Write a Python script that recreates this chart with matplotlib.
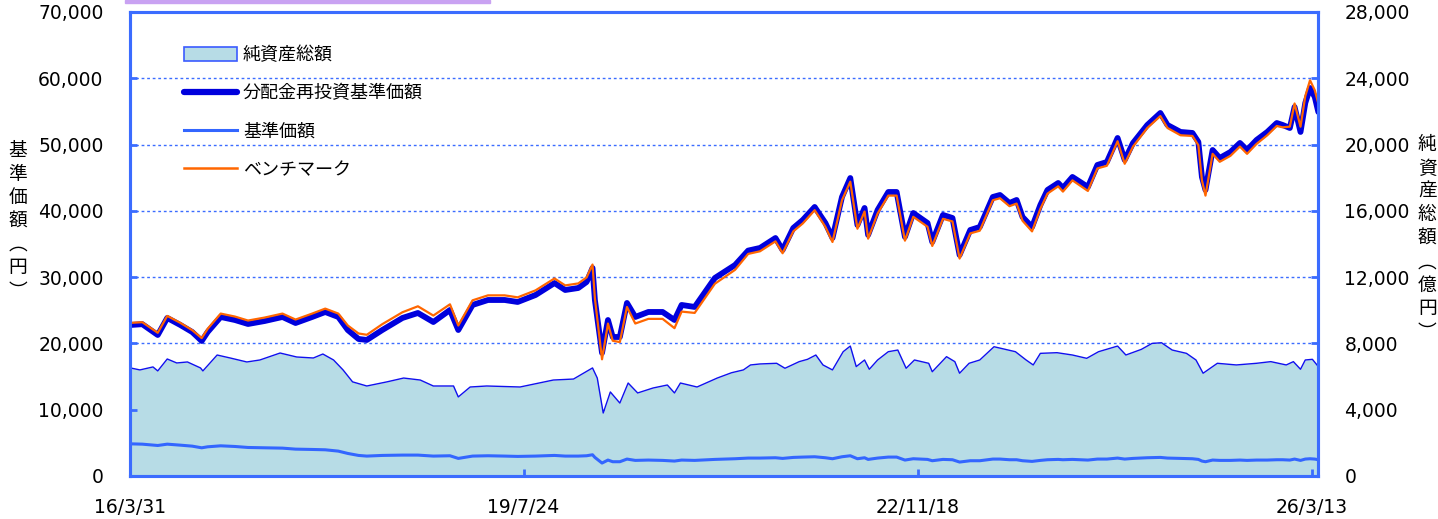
import numpy as np
import pandas as pd
import matplotlib
matplotlib.use("Agg")
import matplotlib.pyplot as plt
from matplotlib.patches import Patch, Rectangle
from matplotlib.lines import Line2D

plt.rcParams['font.family'] = ['DejaVu Sans', 'Noto Sans CJK JP']

# --- données (temps en années décimales) ---
t_nav = [2016.25, 2016.35, 2016.48, 2016.56, 2016.67, 2016.77, 2016.85, 2016.90, 2017.01, 2017.13,
         2017.24, 2017.38, 2017.53, 2017.64, 2017.78, 2017.89, 2018.00, 2018.08, 2018.17, 2018.24,
         2018.37, 2018.54, 2018.67, 2018.80, 2018.94, 2019.01, 2019.13, 2019.26, 2019.40, 2019.51,
         2019.66, 2019.82, 2019.91, 2020.02, 2020.09, 2020.14, 2020.16, 2020.22, 2020.27, 2020.31,
         2020.37, 2020.43, 2020.50, 2020.61, 2020.73, 2020.83, 2020.89, 2021.00, 2021.17, 2021.34,
         2021.45, 2021.55, 2021.68, 2021.74, 2021.83, 2021.91, 2022.01, 2022.10, 2022.16, 2022.24,
         2022.31, 2022.37, 2022.43, 2022.46, 2022.54, 2022.63, 2022.70, 2022.77, 2022.84, 2022.96,
         2023.00, 2023.09, 2023.17, 2023.23, 2023.32, 2023.40, 2023.51, 2023.57, 2023.65, 2023.71,
         2023.76, 2023.84, 2023.91, 2023.97, 2024.06, 2024.10, 2024.18, 2024.31, 2024.39, 2024.47,
         2024.56, 2024.62, 2024.69, 2024.81, 2024.92, 2024.98, 2025.09, 2025.19, 2025.24, 2025.27,
         2025.30, 2025.36, 2025.42, 2025.51, 2025.59, 2025.65, 2025.73, 2025.82, 2025.90, 2025.95,
         2026.01, 2026.05, 2026.10, 2026.14, 2026.18, 2026.22, 2026.25]

# 分配金再投資基準価額 (円)
reinvest = [22780, 22900, 21270, 23840, 22780, 21720, 20370, 21720, 23990, 23530,
            22930, 23380, 23990, 23080, 23990, 24740, 23990, 22020, 20670, 20520,
            22020, 23840, 24590, 23230, 25040, 22020, 25800, 26550, 26550, 26250,
            27300, 29110, 28060, 28360, 29270, 31380, 26550, 18560, 23530, 20970,
            20970, 26100, 23990, 24740, 24740, 23530, 25800, 25500, 29870, 31830,
            34000, 34400, 35900, 34090, 37410, 38620, 40580, 38170, 35900, 42090,
            44950, 37860, 40430, 36360, 40130, 42840, 42840, 36060, 39670, 38170,
            35300, 39380, 38920, 33340, 37110, 37560, 42090, 42390, 41180, 41640,
            39070, 37560, 40880, 43150, 44200, 43450, 45110, 43600, 46920, 47370,
            50990, 47670, 50240, 52950, 54760, 52950, 51900, 51750, 50390, 45110,
            43150, 49180, 47970, 48880, 50240, 49180, 50690, 51900, 53250, 52950,
            52500, 55670, 51900, 56270, 58530, 57180, 54910]

# ベンチマーク
benchmark = [23100, 23200, 21600, 24150, 23100, 22000, 20800, 22200, 24500, 24050,
             23450, 23900, 24500, 23600, 24500, 25250, 24500, 22700, 21500, 21300,
             22900, 24700, 25600, 24200, 25900, 22700, 26500, 27250, 27250, 26950,
             28000, 29800, 28750, 29050, 29950, 31900, 26800, 17600, 23000, 20400,
             20200, 25500, 23000, 23700, 23700, 22300, 24800, 24600, 29000, 31100,
             33500, 33900, 35400, 33600, 36900, 38100, 40100, 37600, 35300, 41600,
             44400, 37300, 39900, 35800, 39600, 42300, 42300, 35500, 39100, 37600,
             34700, 38800, 38400, 32800, 36600, 37000, 41600, 41900, 40700, 41100,
             38500, 36900, 40300, 42600, 43700, 42900, 44600, 43000, 46400, 46800,
             50500, 47100, 49700, 52500, 54300, 52500, 51400, 51300, 49900, 44600,
             42300, 48600, 47400, 48300, 49700, 48600, 50100, 51400, 52800, 52600,
             52700, 56200, 52700, 57300, 59700, 58200, 56200]

# 基準価額
nav = [4850, 4800, 4600, 4800, 4650, 4500, 4250, 4400, 4550, 4450,
       4300, 4250, 4200, 4050, 4000, 3950, 3750, 3400, 3100, 3000,
       3100, 3150, 3150, 3000, 3050, 2650, 3000, 3050, 3000, 2950,
       3000, 3100, 3000, 3000, 3050, 3200, 2800, 1950, 2400, 2150,
       2150, 2550, 2350, 2400, 2350, 2250, 2400, 2350, 2500, 2600,
       2700, 2700, 2750, 2650, 2800, 2850, 2900, 2750, 2600, 2900,
       3050, 2600, 2750, 2500, 2700, 2850, 2850, 2400, 2600, 2500,
       2300, 2500, 2450, 2100, 2300, 2300, 2550, 2550, 2450, 2450,
       2300, 2200, 2350, 2450, 2500, 2450, 2500, 2400, 2550, 2550,
       2700, 2550, 2650, 2750, 2800, 2700, 2650, 2600, 2500, 2250,
       2150, 2400, 2350, 2350, 2400, 2350, 2400, 2400, 2450, 2450,
       2400, 2550, 2350, 2550, 2600, 2550, 2450]

# 純資産総額 (億円)
t_aum = [2016.25, 2016.33, 2016.44, 2016.48, 2016.56, 2016.64, 2016.73, 2016.84, 2016.86, 2016.98,
         2017.09, 2017.23, 2017.34, 2017.51, 2017.65, 2017.79, 2017.87, 2017.96, 2018.04, 2018.12,
         2018.24, 2018.41, 2018.55, 2018.69, 2018.80, 2018.97, 2019.01, 2019.11, 2019.25, 2019.53,
         2019.81, 2019.98, 2020.14, 2020.18, 2020.23, 2020.29, 2020.37, 2020.44, 2020.52, 2020.65,
         2020.77, 2020.83, 2020.88, 2021.02, 2021.19, 2021.31, 2021.41, 2021.47, 2021.55, 2021.69,
         2021.76, 2021.88, 2021.95, 2022.02, 2022.08, 2022.16, 2022.25, 2022.31, 2022.36, 2022.43,
         2022.47, 2022.54, 2022.63, 2022.71, 2022.78, 2022.85, 2022.97, 2023.00, 2023.12, 2023.19,
         2023.23, 2023.31, 2023.40, 2023.52, 2023.58, 2023.70, 2023.79, 2023.85, 2023.91, 2024.05,
         2024.18, 2024.30, 2024.40, 2024.56, 2024.63, 2024.76, 2024.85, 2024.93, 2025.02, 2025.14,
         2025.22, 2025.28, 2025.34, 2025.40, 2025.56, 2025.73, 2025.85, 2025.98, 2026.04, 2026.10,
         2026.14, 2026.20, 2026.25]
aum = [6520, 6400, 6580, 6340, 7060, 6820, 6880, 6520, 6340, 7300,
       7120, 6880, 7000, 7420, 7180, 7120, 7360, 7000, 6400, 5680,
       5430, 5680, 5910, 5790, 5430, 5430, 4770, 5370, 5430, 5370,
       5790, 5850, 6520, 5910, 3800, 5070, 4400, 5610, 5010, 5310,
       5490, 5010, 5610, 5370, 5910, 6230, 6400, 6700, 6760, 6800,
       6500, 6900, 7040, 7300, 6700, 6400, 7500, 7840, 6600, 7000,
       6440, 7000, 7500, 7600, 6500, 7000, 6800, 6290, 7200, 6900,
       6200, 6800, 7000, 7800, 7700, 7500, 7000, 6700, 7400, 7440,
       7300, 7100, 7500, 7840, 7300, 7640, 8000, 8040, 7600, 7400,
       7000, 6200, 6500, 6800, 6700, 6800, 6900, 6700, 6900, 6440,
       7000, 7040, 6600]

tick_dates = ['2016-03-31', '2019-07-24', '2022-11-18', '2026-03-13']
tick_labels = ['16/3/31', '19/7/24', '22/11/18', '26/3/13']


def to_date(t):
    t = np.asarray(t, dtype=float)
    return pd.Timestamp('2016-01-01') + pd.to_timedelta((t - 2016) * 365.25, unit='D')


d_nav = to_date(t_nav)
d_aum = to_date(t_aum)

spine_col = '#3b6cff'
fig = plt.figure(figsize=(14.38, 5.19), dpi=100)
ax = fig.add_axes([0.0904, 0.0829, 0.8262, 0.894])
ax2 = ax.twinx()
ax.set_zorder(ax2.get_zorder() + 1)
ax.patch.set_visible(False)

# aire (axe de droite), dessous
ax2.set_ylim(0, 28000)
ax2.set_yticks(np.arange(0, 28001, 4000))
ax2.yaxis.grid(True, color='#3b6cff', linestyle=(0, (2, 2)), linewidth=1.0)
ax2.set_axisbelow(True)
ax2.fill_between(d_aum, aum, 0, color='#b7dce6', zorder=2, linewidth=0)
ax2.plot(d_aum, aum, color='#1010ee', linewidth=1.0, zorder=3)

# lignes (axe de gauche)
ax.plot(d_nav, nav, color='#3366ff', linewidth=2.2)
ax.plot(d_nav, reinvest, color='#0000dd', linewidth=4.2, solid_capstyle='round')
ax.plot(d_nav, benchmark, color='#ff6600', linewidth=1.6)

ax.set_ylim(0, 70000)
ax.set_yticks(np.arange(0, 70001, 10000))
ax.yaxis.set_major_formatter(matplotlib.ticker.FuncFormatter(lambda v, p: f'{int(v):,}'))
ax2.yaxis.set_major_formatter(matplotlib.ticker.FuncFormatter(lambda v, p: f'{int(v):,}'))
ax.set_xlim(pd.Timestamp('2016-03-31'), pd.Timestamp('2026-04-01'))
ax.set_xticks(pd.to_datetime(tick_dates))
ax.set_xticklabels(tick_labels)

for a in (ax, ax2):
    for s in a.spines.values():
        s.set_color(spine_col)
        s.set_linewidth(2.2)
    a.tick_params(direction='in', length=5, width=2, color=spine_col, labelsize=13.5, pad=19)
ax.tick_params(axis='x', pad=16)

fig.text(0.0125, 0.574, '基\n準\n価\n額\n︵\n円\n︶', fontsize=13.5, ha='center', va='center',
         linespacing=1.15, family=['Noto Sans CJK JP', 'DejaVu Sans'])
fig.text(0.9925, 0.541, '純\n資\n産\n総\n額\n︵\n億\n円\n︶', fontsize=13.5, ha='center', va='center',
         linespacing=1.15, family=['Noto Sans CJK JP', 'DejaVu Sans'])

handles = [Patch(facecolor='#b7dce6', edgecolor='#3b5bff', linewidth=1.2),
           Line2D([], [], color='#0000dd', linewidth=4.5, solid_capstyle='round'),
           Line2D([], [], color='#3366ff', linewidth=2.2),
           Line2D([], [], color='#ff6600', linewidth=1.8)]
labels = ['純資産総額', '分配金再投資基準価額', '基準価額', 'ベンチマーク']
leg = ax.legend(handles, labels, loc='upper left', bbox_to_anchor=(0.038, 0.946), frameon=False,
                prop={'family': ['Noto Sans CJK JP'], 'size': 13}, handlelength=2.95,
                handleheight=0.8, labelspacing=1.12, handletextpad=0.3, borderpad=0)
leg.set_zorder(10)

fig.patches.append(Rectangle((125 / 1438, 1 - 3 / 519), 365 / 1438, 3 / 519,
                             transform=fig.transFigure, color='#c9a2f2', zorder=5))

fig.savefig('out.png', dpi=100)
